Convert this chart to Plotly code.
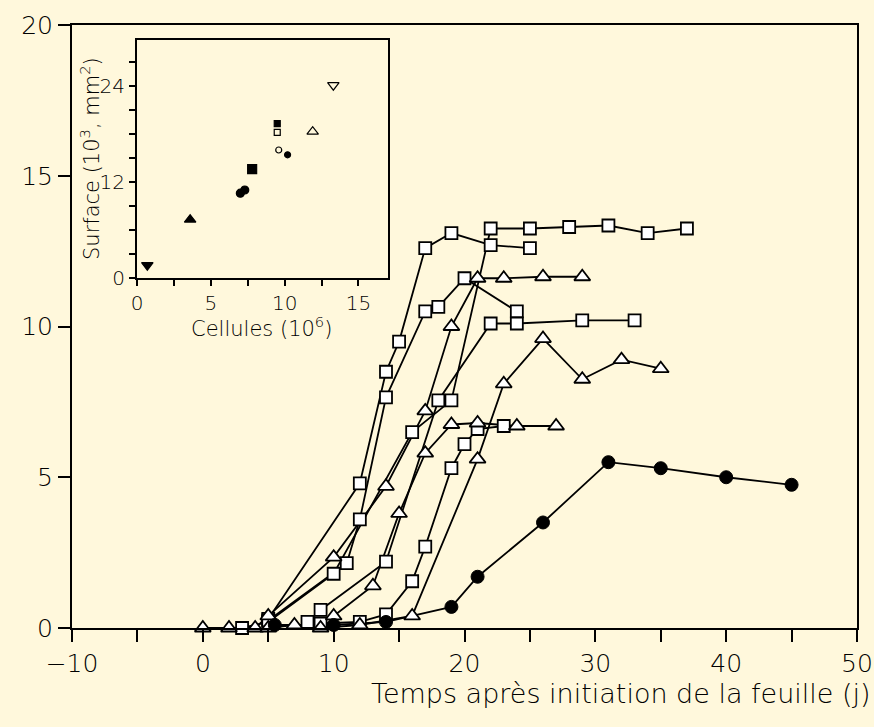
import plotly.graph_objects as go

# ---------------- data (main chart) ----------------
circ_x = [5.5, 10, 14, 19, 21, 26, 31, 35, 40, 45]
circ_y = [0.1, 0.1, 0.2, 0.7, 1.7, 3.5, 5.5, 5.3, 5.0, 4.75]

sqA_x = [3, 5, 10, 16, 19, 22, 25, 28, 31, 34, 37]
sqA_y = [0, 0.2, 1.8, 6.5, 7.55, 13.25, 13.25, 13.3, 13.35, 13.1, 13.25]
sqB_x = [5, 12, 14, 15, 17, 19, 22, 25]
sqB_y = [0.3, 4.8, 8.5, 9.5, 12.6, 13.1, 12.7, 12.6]
sqC_x = [5, 11, 12, 14, 17, 18, 20, 24]
sqC_y = [0.25, 2.15, 3.6, 7.65, 10.5, 10.65, 11.6, 10.5]
sqD_x = [8, 9, 14, 18, 22, 24, 29, 33]
sqD_y = [0.2, 0.6, 2.2, 7.55, 10.1, 10.1, 10.2, 10.2]
sqE_x = [9, 12, 14, 16, 17, 19, 20, 21, 23]
sqE_y = [0.15, 0.2, 0.45, 1.55, 2.7, 5.3, 6.1, 6.6, 6.7]

trA_x = [0, 2, 4, 5, 10, 14, 17, 19, 21, 23, 26, 29]
trA_y = [0, 0, 0, 0.4, 2.35, 4.7, 7.2, 10.0, 11.6, 11.6, 11.65, 11.65]
trB_x = [5, 7, 9, 12, 16, 21, 23, 26, 29, 32, 35]
trB_y = [0, 0.1, 0, 0.1, 0.4, 5.6, 8.1, 9.6, 8.25, 8.9, 8.6]
trC_x = [10, 13, 15, 17, 19, 21, 24, 27]
trC_y = [0.4, 1.4, 3.8, 5.8, 6.75, 6.8, 6.7, 6.7]

x_ticks = [-10, 0, 10, 20, 30, 40, 50]
x_ticktext = ["\u221210", "0", "10", "20", "30", "40", "50"]
y_ticks = [0, 5, 10, 15, 20]
y_ticktext = ["0", "5", "10", "15", "20"]

# ---------------- data (inset) ----------------
in_x = [0.7, 3.6, 7.0, 7.3, 7.8, 9.5, 9.5, 9.6, 10.2, 11.9, 13.3]
in_y = [1.6, 7.3, 10.6, 11.0, 13.6, 19.3, 18.2, 16.0, 15.4, 18.3, 24.1]
in_sym = ["triangle-down", "triangle-up", "circle", "circle", "square", "square",
          "square-open", "circle-open", "circle", "triangle-up-open", "triangle-down-open"]
in_size = [10, 10, 8, 8, 9, 6, 6, 6, 6, 10, 10]
in_xticks = [0, 5, 10, 15]
in_xtext = ["0", "5", "10", "15"]
in_yticks = [0, 12, 24]
in_ytext = ["0", "12", "24"]

BG = "#FFF8DC"
FONT = "DejaVu Sans"
INK = "#000000"

fig = go.Figure()

series = [
    (sqA_x, sqA_y, "square"), (sqB_x, sqB_y, "square"), (sqC_x, sqC_y, "square"),
    (sqD_x, sqD_y, "square"), (sqE_x, sqE_y, "square"),
    (trA_x, trA_y, "triangle-up"), (trB_x, trB_y, "triangle-up"), (trC_x, trC_y, "triangle-up"),
    (circ_x, circ_y, "circle"),
]

for xs, ys, sym in series:
    fig.add_trace(go.Scatter(x=xs, y=ys, mode="lines", line=dict(color=INK, width=1.8),
                             showlegend=False, hoverinfo="skip", cliponaxis=False))
for xs, ys, sym in series:
    if sym == "circle":
        mk = dict(symbol="circle", size=13, color="black", line=dict(color="black", width=1))
    elif sym == "square":
        mk = dict(symbol="square", size=12, color="white", line=dict(color=INK, width=1.8))
    else:
        mk = dict(symbol="triangle-up", size=14, color="white", line=dict(color=INK, width=1.8))
    fig.add_trace(go.Scatter(x=xs, y=ys, mode="markers", marker=mk, showlegend=False,
                             cliponaxis=False))

for xv, yv, s, sz in zip(in_x, in_y, in_sym, in_size):
    fig.add_trace(go.Scatter(x=[xv], y=[yv], mode="markers", xaxis="x2", yaxis="y2",
                             marker=dict(symbol=s, size=sz, color="black",
                                         line=dict(color="black", width=1.2)),
                             showlegend=False))

tickfont = dict(family=FONT, size=25, color=INK, weight=300)
infont = dict(family=FONT, size=20, color=INK, weight=300)
common = dict(ticks="outside", tickwidth=2, tickcolor=INK, showline=True, linewidth=2,
              linecolor=INK, mirror=True, showgrid=False, zeroline=False, automargin=False)
fig.update_layout(
    width=874, height=727, autosize=False,
    margin=dict(l=72, r=17, t=25, b=99),
    paper_bgcolor=BG, plot_bgcolor=BG,
    xaxis=dict(range=[-10, 50], tickvals=x_ticks, ticktext=x_ticktext, ticklen=12,
               tickfont=tickfont, minor=dict(dtick=5, tick0=0, ticks="outside", ticklen=12,
                                             tickwidth=2, tickcolor=INK), **common),
    yaxis=dict(range=[0, 20], tickvals=y_ticks, ticktext=y_ticktext, ticklen=12,
               tickfont=tickfont, **common),
    xaxis2=dict(domain=[0.0828, 0.4025], anchor="y2", range=[0, 17], tickvals=in_xticks,
                ticktext=in_xtext, ticklen=6, tickfont=infont,
                minor=dict(dtick=2.5, tick0=0, ticks="outside", ticklen=6, tickwidth=2,
                           tickcolor=INK), **common),
    yaxis2=dict(domain=[0.5804, 0.9751], anchor="x2", range=[0, 29.75], tickvals=in_yticks,
                ticktext=in_ytext, ticklen=6, tickfont=infont,
                minor=dict(dtick=3, tick0=0, ticks="outside", ticklen=6, tickwidth=2,
                           tickcolor=INK), **common),
    shapes=[dict(type="rect", xref="x2 domain", yref="y2 domain", x0=0, x1=1, y0=0, y1=1,
                 fillcolor="white", line=dict(width=0), layer="below")],
    annotations=[
        dict(text="Temps après initiation de la feuille (j)", xref="paper", yref="paper",
             x=1, y=-0.108, xshift=16, xanchor="right", yanchor="middle", showarrow=False,
             font=dict(family=FONT, size=27, color=INK, weight=300)),
        dict(text="Cellules (10<sup>6</sup>)", xref="paper", yref="paper", x=0.242, y=0.499,
             xanchor="center", yanchor="middle", showarrow=False,
             font=dict(family=FONT, size=21, color=INK, weight=300)),
        dict(text="Surface (10<sup>3</sup>, mm<sup>2</sup>)", xref="paper", yref="paper",
             x=0.0229, y=0.7794, textangle=-90, xanchor="center", yanchor="middle",
             showarrow=False, font=dict(family=FONT, size=21, color=INK, weight=300)),
    ],
)

fig.write_html("out.html")
